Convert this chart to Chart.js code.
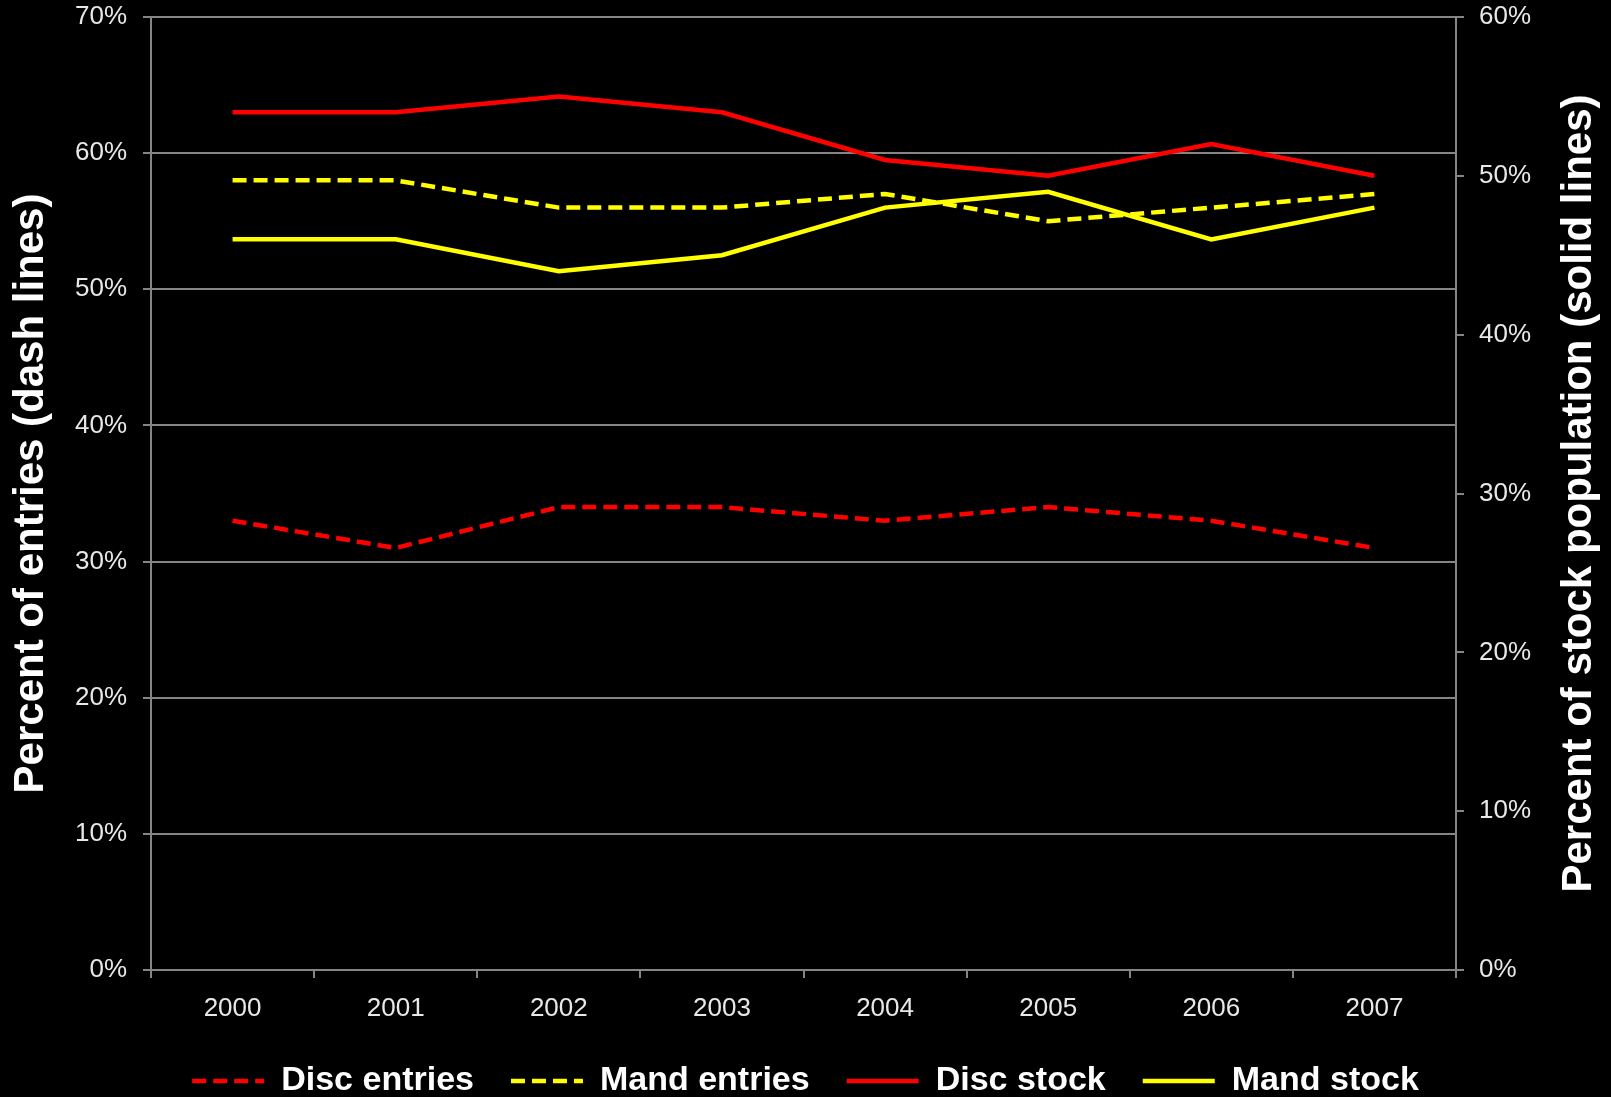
<!DOCTYPE html>
<html>
<head>
<meta charset="utf-8">
<script src="https://cdn.jsdelivr.net/npm/chart.js@4.4.1/dist/chart.umd.min.js"></script>
<style>
  html, body { margin: 0; padding: 0; background: #000; overflow: hidden; }
  #wrap { position: relative; width: 1611px; height: 1108px; }
</style>
</head>
<body>
<div id="wrap"><canvas id="entries-stock-chart"></canvas></div>
<script>
const YEARS = ['2000', '2001', '2002', '2003', '2004', '2005', '2006', '2007'];

// left axis, percent of entries (dashed)
const DISC_ENTRIES = [33, 31, 34, 34, 33, 34, 33, 31];
const MAND_ENTRIES = [58, 58, 56, 56, 57, 55, 56, 57];

// right axis, percent of stock population (solid)
const DISC_STOCK = [54, 54, 55, 54, 51, 50, 52, 50];
const MAND_STOCK = [46, 46, 44, 45, 48, 49, 46, 48];

const LEFT_TITLE = 'Percent of entries (dash lines)';
const RIGHT_TITLE = 'Percent of stock population (solid lines)';

const FONT = "'Liberation Sans', Arial, sans-serif";
const GRID = '#858585';
const RED = '#ff0000';
const YELLOW = '#ffff00';
const DASH = [14, 7];
const LINE_WIDTH = 4.5;

// draws both axis titles reading bottom to top
const axisTitlesPlugin = {
  id: 'axisTitles',
  afterDraw(chart) {
    const ctx = chart.ctx;
    const area = chart.chartArea;
    const midY = (area.top + area.bottom) / 2;
    ctx.save();
    ctx.fillStyle = '#ffffff';
    ctx.font = `bold 42px ${FONT}`;
    ctx.textAlign = 'center';
    ctx.textBaseline = 'middle';
    [[31, LEFT_TITLE], [1579, RIGHT_TITLE]].forEach(([x, text]) => {
      ctx.save();
      ctx.translate(x, midY);
      ctx.rotate(-Math.PI / 2);
      ctx.fillText(text, 0, 0);
      ctx.restore();
    });
    ctx.restore();
  }
};

const chartConfig = {
  type: 'line',
  data: {
    labels: YEARS,
    datasets: [
      { label: 'Disc entries', data: DISC_ENTRIES, yAxisID: 'y', borderColor: RED, backgroundColor: RED, borderDash: DASH },
      { label: 'Mand entries', data: MAND_ENTRIES, yAxisID: 'y', borderColor: YELLOW, backgroundColor: YELLOW, borderDash: DASH },
      { label: 'Disc stock', data: DISC_STOCK, yAxisID: 'y1', borderColor: RED, backgroundColor: RED },
      { label: 'Mand stock', data: MAND_STOCK, yAxisID: 'y1', borderColor: YELLOW, backgroundColor: YELLOW },
    ],
  },
  options: {
    responsive: true,
    maintainAspectRatio: false,
    animation: false,
    devicePixelRatio: 1,
    layout: { padding: { top: 17, left: 0, right: 0, bottom: 0 } },
    elements: {
      point: { radius: 0, hoverRadius: 0, pointStyle: 'line' },
      line: { tension: 0, borderWidth: LINE_WIDTH, fill: false },
    },
    plugins: {
      tooltip: { enabled: false },
      legend: {
        display: true,
        position: 'bottom',
        labels: {
          usePointStyle: true,
          pointStyleWidth: 72,
          padding: 37,
          color: '#ffffff',
          font: { family: FONT, size: 34, weight: 'bold' },
          generateLabels(chart) {
            const items = Chart.defaults.plugins.legend.labels.generateLabels(chart);
            items.forEach((item) => {
              const ds = chart.data.datasets[item.datasetIndex];
              item.strokeStyle = ds.borderColor;
              item.lineWidth = LINE_WIDTH;
              item.lineDash = ds.borderDash || [];
              item.lineCap = 'butt';
            });
            return items;
          },
        },
      },
    },
    scales: {
      x: {
        offset: true,
        grid: { offset: true, drawOnChartArea: false, color: GRID, lineWidth: 2, tickLength: 8 },
        border: { color: GRID, width: 2 },
        ticks: { color: '#e8e8e8', padding: 15, font: { family: FONT, size: 26 } },
        afterFit(scale) { scale.height = 57; },
      },
      y: {
        position: 'left',
        min: 0,
        max: 70,
        grid: { color: GRID, lineWidth: 2, tickLength: 8 },
        border: { color: GRID, width: 2 },
        ticks: {
          stepSize: 10,
          color: '#e8e8e8',
          padding: 16,
          font: { family: FONT, size: 26 },
          callback: (v) => v + '%',
        },
        afterFit(scale) {
          scale.width = 151;
          scale.paddingTop = 0;
          scale.paddingBottom = 0;
        },
      },
      y1: {
        position: 'right',
        min: 0,
        max: 60,
        grid: { drawOnChartArea: false, color: GRID, lineWidth: 2, tickLength: 8 },
        border: { color: GRID, width: 2 },
        ticks: {
          stepSize: 10,
          color: '#e8e8e8',
          padding: 15,
          font: { family: FONT, size: 26 },
          callback: (v) => v + '%',
        },
        afterFit(scale) {
          scale.width = 155;
          scale.paddingTop = 0;
          scale.paddingBottom = 0;
        },
      },
    },
  },
  plugins: [axisTitlesPlugin],
};

const entriesStockCanvas = document.getElementById('entries-stock-chart');
const entriesStockChart = new Chart(entriesStockCanvas, chartConfig);
</script>
</body>
</html>
